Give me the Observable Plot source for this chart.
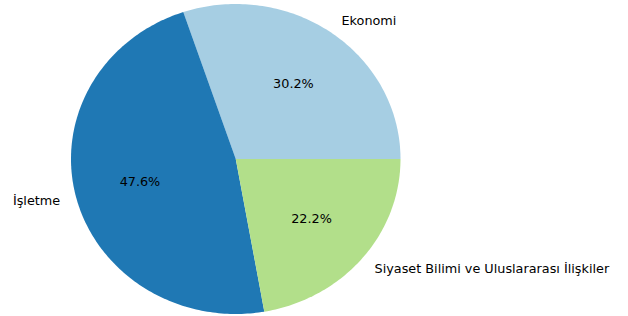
<!DOCTYPE html>
<html>
<head>
<meta charset="utf-8">
<script src="https://cdn.jsdelivr.net/npm/d3@7"></script>
<script src="https://cdn.jsdelivr.net/npm/@observablehq/plot@0.6"></script>
<style>
  html, body { margin: 0; padding: 0; background: #fff; }
</style>
</head>
<body>
<div id="chart"></div>
<script>
const categories = ["Ekonomi", "İşletme", "Siyaset Bilimi ve Uluslararası İlişkiler"];
const counts = [19, 30, 14];
const colors = ["#a6cee3", "#1f78b4", "#b2df8a"];

const total = d3.sum(counts);
let cum = 0;
const slices = categories.map((c, i) => {
  const a0 = cum / total * 2 * Math.PI;
  cum += counts[i];
  const a1 = cum / total * 2 * Math.PI;
  return {label: c, value: counts[i], a0, a1, mid: (a0 + a1) / 2, pct: counts[i] / total * 100};
});

// Polygon outlines of wedges (center + arc samples), counter-clockwise from east
const wedgePts = [];
for (const s of slices) {
  wedgePts.push({label: s.label, x: 0, y: 0});
  const n = Math.max(8, Math.ceil((s.a1 - s.a0) / (Math.PI / 180)));
  for (let k = 0; k <= n; k++) {
    const a = s.a0 + (s.a1 - s.a0) * k / n;
    wedgePts.push({label: s.label, x: Math.cos(a), y: Math.sin(a)});
  }
}

const labels = slices.map(s => ({
  label: s.label,
  x: 1.1 * Math.cos(s.mid),
  y: 1.1 * Math.sin(s.mid),
  anchor: Math.cos(s.mid) >= 0 ? "start" : "end"
}));
const pcts = slices.map(s => ({
  text: s.pct.toFixed(1) + "%",
  x: 0.6 * Math.cos(s.mid),
  y: 0.6 * Math.sin(s.mid)
}));

const chart = Plot.plot({
  width: 628,
  height: 316,
  margin: 0,
  style: {fontFamily: "DejaVu Sans", fontSize: "12.8px", background: "#fff", color: "#000"},
  x: {domain: [-1, 1], range: [70.5, 400], axis: null},
  y: {domain: [-1, 1], range: [313.5, 3.5], axis: null},
  color: {domain: categories, range: colors},
  marks: [
    Plot.line(wedgePts, {x: "x", y: "y", z: "label", fill: "label", stroke: "none", curve: "linear-closed"}),
    Plot.text(labels.filter(d => d.anchor === "start"), {x: "x", y: "y", text: "label", textAnchor: "start", fill: "#000", fontSize: 12.8}),
    Plot.text(labels.filter(d => d.anchor === "end"), {x: "x", y: "y", text: "label", textAnchor: "end", fill: "#000", fontSize: 12.8}),
    Plot.text(pcts, {x: "x", y: "y", text: "text", fill: "#000", fontSize: 12.8})
  ]
});
document.getElementById("chart").appendChild(chart);
</script>
</body>
</html>
